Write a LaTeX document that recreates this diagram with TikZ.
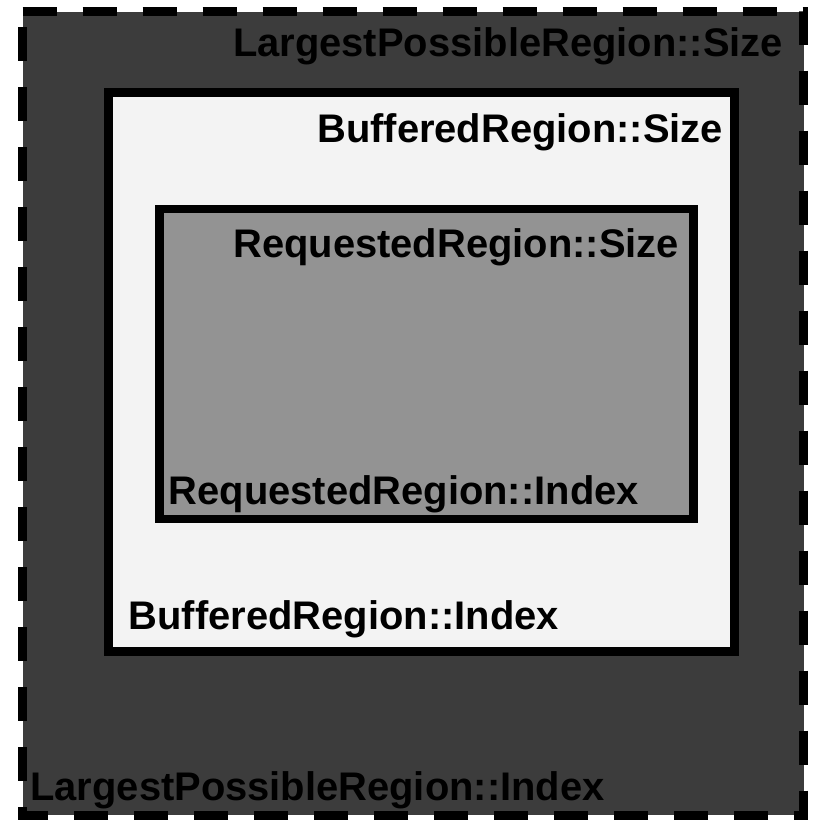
\documentclass[tikz,border=0pt]{standalone}
\usepackage{fontspec}
\setmainfont{Liberation Sans}
\tikzset{
  region label/.style={inner sep=0pt, outer sep=0pt, text=black,
    font=\bfseries\fontsize{39.9}{43}\selectfont},
  largest/.style={fill=largestgray, draw=black, line width=9pt,
    dash pattern=on 34pt off 26pt},
  buffered/.style={fill=bufferedgray, draw=black, line width=8.7pt},
  requested/.style={fill=requestedgray, draw=black, line width=8.6pt},
}
\definecolor{largestgray}{RGB}{60,60,60}
\definecolor{bufferedgray}{RGB}{243,243,243}
\definecolor{requestedgray}{RGB}{147,147,147}
\begin{document}
\begin{tikzpicture}[x=1pt,y=-1pt]
  \useasboundingbox (0,0) rectangle (812,820);

  % Largest possible region (dashed outline)
  \coordinate (lpTL) at (22.5,11.5);
  \coordinate (lpBR) at (803.5,815);
  \path[largest] (lpTL) -- (lpTL -| lpBR) -- (lpBR) -- (lpBR -| lpTL) -- cycle;

  % Buffered region
  \coordinate (brTL) at (108.5,92.3);
  \coordinate (brBR) at (734.5,651.7);
  \path[buffered] (brTL) rectangle (brBR);

  % Requested region
  \coordinate (rrTL) at (159.7,209);
  \coordinate (rrBR) at (693.3,518.8);
  \path[requested] (rrTL) rectangle (rrBR);

  % Labels
  \node[region label, anchor=base east] (lpSize) at (783,56) {LargestPossibleRegion::Size};
  \node[region label, anchor=base west] (lpIndex) at (30.4,800.7) {LargestPossibleRegion::Index};
  \node[region label, anchor=base east] (brSize) at (723,142) {BufferedRegion::Size};
  \node[region label, anchor=base west] (brIndex) at (128.8,629.3) {BufferedRegion::Index};
  \node[region label, anchor=base east] (rrSize) at (679,257) {RequestedRegion::Size};
  \node[region label, anchor=base west] (rrIndex) at (168.8,504) {RequestedRegion::Index};
\end{tikzpicture}
\end{document}
